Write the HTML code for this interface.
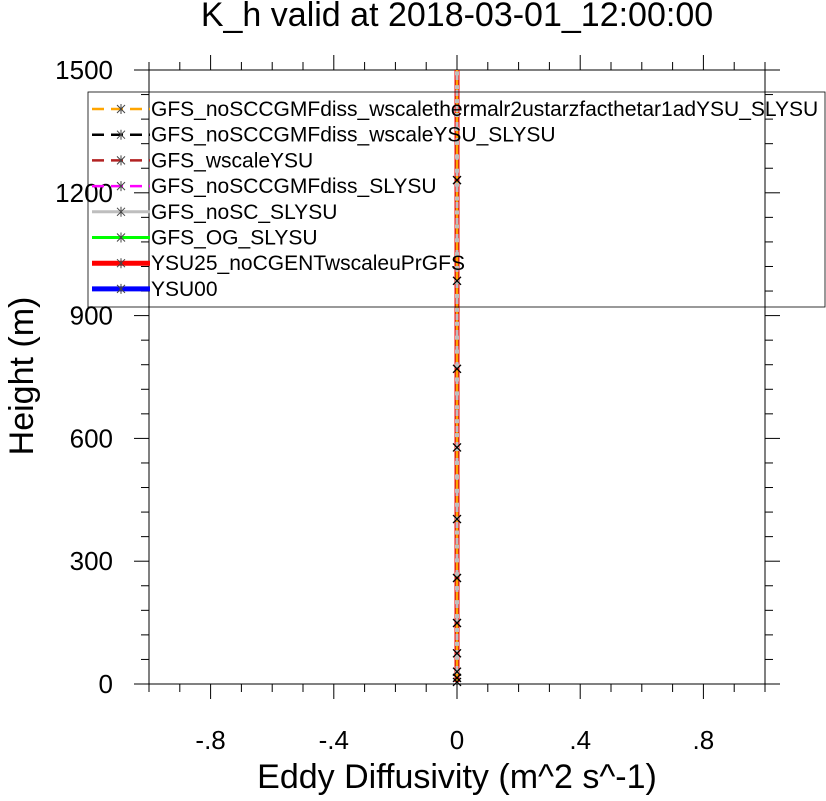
<!DOCTYPE html>
<html><head><meta charset="utf-8"><style>
body{margin:0;background:#fff}
svg text{font-family:"Liberation Sans",sans-serif;fill:#000}
</style></head><body>
<svg id="chart" width="826" height="796" xmlns="http://www.w3.org/2000/svg">
<text x="457" y="26" font-size="34" text-anchor="middle">K_h valid at 2018-03-01_12:00:00</text>
<g id="axes"></g>
<g id="series"></g>
<text x="457" y="788" font-size="34" text-anchor="middle">Eddy Diffusivity (m^2 s^-1)</text>
<text transform="translate(33,376) rotate(-90)" font-size="34" text-anchor="middle">Height (m)</text>
<g id="legend"></g>
</svg>
<script>
const xTicks=[-0.8,-0.4,0,0.4,0.8];
const xTickLabels=["-.8","-.4","0",".4",".8"];
const yTicks=[0,300,600,900,1200,1500];
const heights=[5,15,30,75,149,259,403,578,770,985,1231,1500];
const kValues=[0,0,0,0,0,0,0,0,0,0,0,0];
const seriesNames=["GFS_noSCCGMFdiss_wscalethermalr2ustarzfacthetar1adYSU_SLYSU","GFS_noSCCGMFdiss_wscaleYSU_SLYSU","GFS_wscaleYSU","GFS_noSCCGMFdiss_SLYSU","GFS_noSC_SLYSU","GFS_OG_SLYSU","YSU25_noCGENTwscaleuPrGFS","YSU00"];
const seriesColors=["#ffa500","#000","#b22222","#ff00ff","#bebebe","#00ff00","#ff0000","#0000ff"];
const seriesDash=[true,true,true,true,false,false,false,false];
const seriesWidth=[2.5,2.5,2.5,2.5,3,3,5,5];

const L=149,R=765,T=70,B=684;
const X=v=>L+(v+1)/2*(R-L);
const Y=v=>B-v/1500*(B-T);
const NS="http://www.w3.org/2000/svg";
function mk(tag,attrs,parent){const e=document.createElementNS(NS,tag);for(const k in attrs)e.setAttribute(k,attrs[k]);parent.appendChild(e);return e;}
const ax=document.getElementById('axes');
const frame=mk('rect',{x:L,y:T,width:R-L,height:B-T,fill:'none',stroke:'#000','stroke-width':1},ax);


for(let i=-10;i<=10;i++){const v=i/10;const maj=[-8,-4,0,4,8].includes(i);const len=maj?15:8;const x=X(v);
 mk('line',{x1:x,x2:x,y1:B,y2:B+len,stroke:'#000'},ax);mk('line',{x1:x,x2:x,y1:T,y2:T-len,stroke:'#000'},ax);}
xTicks.forEach((v,i)=>{const t=mk('text',{x:X(v),y:B+65,'font-size':26,'text-anchor':'middle'},ax);t.textContent=xTickLabels[i];
 
 });
for(let h=0;h<=1500;h+=60){const maj=h%300===0;const len=maj?15:8;const y=Y(h);
 mk('line',{x1:L,x2:L-len,y1:y,y2:y,stroke:'#000'},ax);mk('line',{x1:R,x2:R+len,y1:y,y2:y,stroke:'#000'},ax);}
yTicks.forEach(v=>{const t=mk('text',{x:L-36,y:Y(v)+9,'font-size':26,'text-anchor':'end'},ax);t.textContent=v;
 
 });
const sg=document.getElementById('series');
for(let s=seriesNames.length-1;s>=0;s--){
 const pts=heights.map((h,i)=>X(kValues[i])+','+Y(h)).join(' ');
 const pl=mk('polyline',{points:pts,fill:'none',stroke:seriesColors[s],'stroke-width':seriesWidth[s],'stroke-dasharray':seriesDash[s]?'10,6':'none'},sg);
 
 
}
for(let h=30;h<1500;h+=34){const r=mk('rect',{x:X(0)-2,y:Y(h)-2,width:4,height:4,fill:'#bebebe'},sg);
 
 }
heights.forEach((h,i)=>{if(h>=1500)return;const x=X(kValues[i]),y=Y(h);
 const m=mk('path',{d:`M${x-4},${y-4}L${x+4},${y+4}M${x-4},${y+4}L${x+4},${y-4}`,stroke:'#000','stroke-width':1.3},sg);
 
 });
const lg=document.getElementById('legend');
const box=mk('rect',{x:88,y:92,width:737,height:215,fill:'none',stroke:'#000','stroke-width':0.8},lg);


seriesNames.forEach((n,i)=>{const y=109+i*25.7;
 const g=mk('g',{},lg);
 
 
 mk('line',{x1:92,x2:150,y1:y,y2:y,stroke:seriesColors[i],'stroke-width':seriesWidth[i],'stroke-dasharray':seriesDash[i]?'12,7':'none'},g);
 mk('path',{d:`M117,${y-4}L125,${y+4}M117,${y+4}L125,${y-4}M121,${y-5}L121,${y+5}`,stroke:'#444','stroke-width':1},g);
 const t=mk('text',{x:151,y:y+7,'font-size':21},g);t.textContent=n;});
</script>
</body></html>
